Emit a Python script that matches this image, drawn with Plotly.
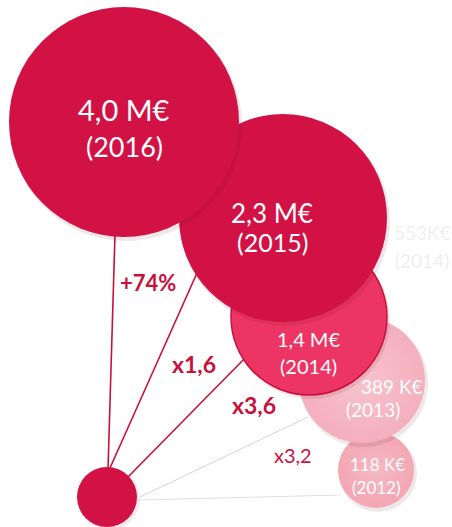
import plotly.graph_objects as go

# ---- data ----
years = ["2012", "2013", "2014", "2015", "2016"]
amounts = ["118 K€", "389 K€", "1,4 M€", "2,3 M€", "4,0 M€"]
growth = ["x3,2", "x3,6", "x1,6", "+74%"]
ghost_amount = "553K€"
ghost_year = "2014"

# ---- layout geometry (pixel space of a 452x527 canvas) ----
W, H = 452, 527
cx = [376, 362, 309, 283, 124]
cy = [470, 380, 317, 218, 122]
rad = [38, 63, 78, 104, 115]
fills = ["#F3A7B3", "#F4AFBD", "#EC3565", "#D21245", "#D21245"]
borders = ["rgba(0,0,0,0)", "rgba(0,0,0,0)", "#C8103C", "rgba(0,0,0,0)", "rgba(0,0,0,0)"]
amt_pos = [(377, 464), (392, 386), (308, 339), (272, 213), (124, 109)]
yr_pos = [(376, 487), (373, 409), (308, 366), (272, 242), (124, 146)]
amt_size = [17, 19, 20, 26, 29]
yr_size = [17, 19, 20, 25, 27]
base = (107, 497, 30)
connectors = [((138, 500), (340, 495)), ((140, 497), (308, 417)),
              ((127, 478), (250, 353)), ((110, 468), (197, 273)),
              ((108, 470), (115, 234))]
conn_color = ["#EADCDF", "#E3CDD2", "#C8103C", "#C8103C", "#C8103C"]
conn_width = [1, 1, 1.6, 1.6, 1.6]
growth_pos = [(293, 455), (254, 405), (194, 364), (148, 282)]
growth_size = [20, 23, 23, 22]
growth_bold = [False, True, True, True]

FONT = "Lato, 'Open Sans', sans-serif"
fig = go.Figure()

# connectors
for (p0, p1), c, w in zip(connectors, conn_color, conn_width):
    fig.add_trace(go.Scatter(x=[p0[0], p1[0]], y=[p0[1], p1[1]], mode="lines",
                             line=dict(color=c, width=w), hoverinfo="skip", showlegend=False))

# base circle
fig.add_trace(go.Scatter(x=[base[0] + 2], y=[base[1] + 2], mode="markers",
                         marker=dict(size=2 * base[2] + 2, color="rgba(80,0,20,0.08)", line=dict(width=0)),
                         hoverinfo="skip", showlegend=False))
fig.add_trace(go.Scatter(x=[base[0]], y=[base[1]], mode="markers",
                         marker=dict(size=2 * base[2], color="#D21245", line=dict(width=0)),
                         hoverinfo="skip", showlegend=False))

# bubbles, smallest first so larger ones overlap
for i in range(len(years)):
    fig.add_trace(go.Scatter(x=[cx[i] + 2], y=[cy[i] + 3], mode="markers",
                             marker=dict(size=2 * rad[i] + 2, color="rgba(80,0,20,0.09)", line=dict(width=0)),
                             hoverinfo="skip", showlegend=False))
    mk = dict(size=2 * rad[i], color=fills[i], line=dict(color=borders[i], width=1.5))
    if i == 1:
        mk["gradient"] = dict(type="radial", color="#F7C3CD")
    if i == 0:
        mk["gradient"] = dict(type="radial", color="#F5B8C2")
    fig.add_trace(go.Scatter(x=[cx[i]], y=[cy[i]], mode="markers", marker=mk,
                             hoverinfo="skip", showlegend=False))

ann = []
for i in range(len(years)):
    ann.append(dict(x=amt_pos[i][0], y=amt_pos[i][1], text=amounts[i], showarrow=False,
                    font=dict(family=FONT, size=amt_size[i], color="white"), xref="x", yref="y"))
    ann.append(dict(x=yr_pos[i][0], y=yr_pos[i][1], text="(" + years[i] + ")", showarrow=False,
                    font=dict(family=FONT, size=yr_size[i], color="white"), xref="x", yref="y"))
for i, g in enumerate(growth):
    txt = "<b>" + g + "</b>" if growth_bold[i] else g
    ann.append(dict(x=growth_pos[i][0], y=growth_pos[i][1], text=txt, showarrow=False,
                    font=dict(family=FONT, size=growth_size[i], color="#C8103C"), xref="x", yref="y"))
ann.append(dict(x=422, y=232, text=ghost_amount, showarrow=False,
                font=dict(family=FONT, size=19, color="#EFEFEF"), xref="x", yref="y"))
ann.append(dict(x=422, y=260, text="(" + ghost_year + ")", showarrow=False,
                font=dict(family=FONT, size=19, color="#EFEFEF"), xref="x", yref="y"))

fig.update_layout(
    width=W, height=H, margin=dict(l=0, r=0, t=0, b=0),
    paper_bgcolor="white", plot_bgcolor="white",
    xaxis=dict(range=[0, W], visible=False, fixedrange=True),
    yaxis=dict(range=[H, 0], visible=False, fixedrange=True),
    annotations=ann, showlegend=False, hovermode=False,
)
fig.write_html("out.html", config={"displayModeBar": False, "staticPlot": True},
               post_script="document.body.style.margin='0';document.body.style.overflow='hidden';")
